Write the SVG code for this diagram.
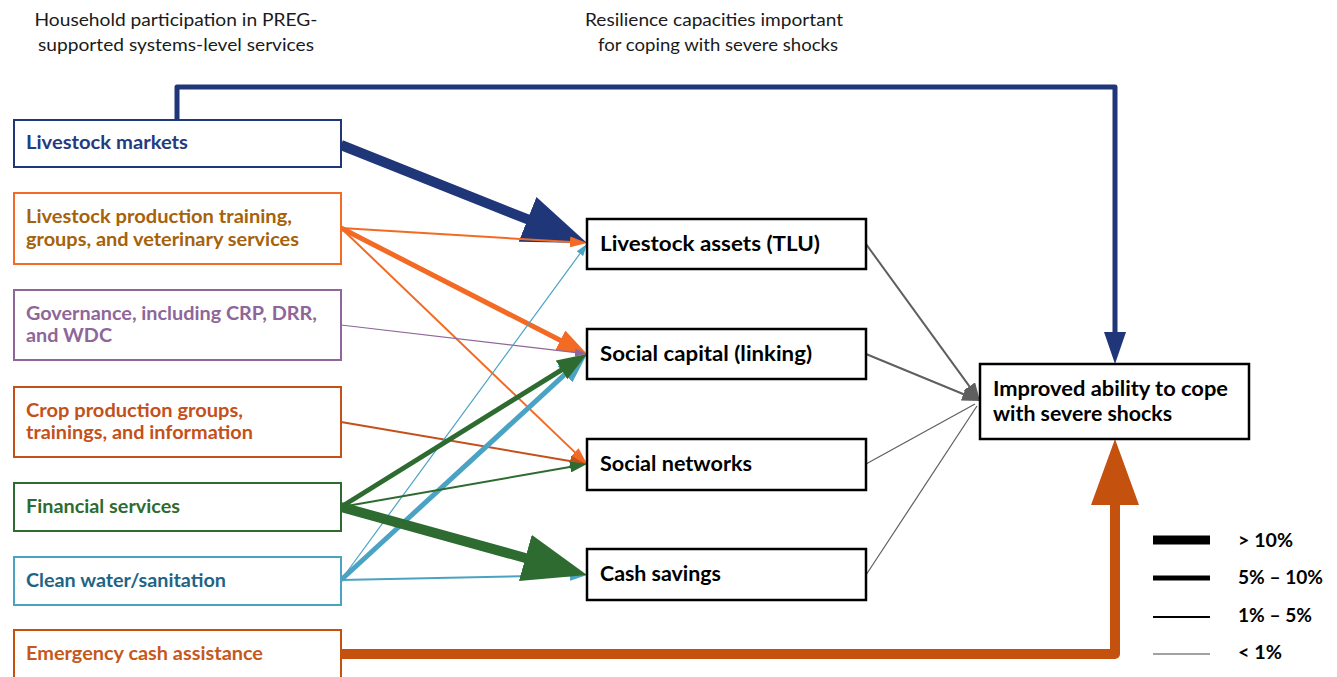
<svg xmlns="http://www.w3.org/2000/svg" width="1337" height="677" viewBox="0 0 1337 677">
<style>
.hd{font-family:Lato,"Liberation Sans",sans-serif;font-size:18px;fill:#1a1a1a;text-anchor:middle}
.lb{font-family:Lato,"Liberation Sans",sans-serif;font-weight:bold;font-size:18.5px}
.mb{font-family:Lato,"Liberation Sans",sans-serif;font-weight:bold;font-size:20px;fill:#000}
.lg{font-family:Lato,"Liberation Sans",sans-serif;font-weight:bold;font-size:18px;fill:#000}
.box{fill:#fff;stroke-width:2}
.mbox{fill:#fff;stroke:#000;stroke-width:2.5}
.c{fill:none;stroke-linecap:butt}
</style>
<defs>
<marker id="hNavyBig" markerUnits="userSpaceOnUse" markerWidth="64" markerHeight="48" refX="1" refY="24" orient="auto"><path d="M0,0 L64,24 L0,48 Z" fill="#1F3778"/></marker>
<marker id="hNavyMed" markerUnits="userSpaceOnUse" markerWidth="32" markerHeight="22" refX="1" refY="11" orient="auto"><path d="M0,0 L32,11 L0,22 Z" fill="#1F3778"/></marker>
<marker id="hOrMed" markerUnits="userSpaceOnUse" markerWidth="30" markerHeight="22" refX="1" refY="11" orient="auto"><path d="M0,0 L30,11 L0,22 Z" fill="#F26A24"/></marker>
<marker id="hOrSm" markerUnits="userSpaceOnUse" markerWidth="17" markerHeight="11" refX="1" refY="5.5" orient="auto"><path d="M0,0 L17,5.5 L0,11 Z" fill="#F26A24"/></marker>
<marker id="hPuTi" markerUnits="userSpaceOnUse" markerWidth="12" markerHeight="8" refX="1" refY="4" orient="auto"><path d="M0,0 L12,4 L0,8 Z" fill="#8E6699"/></marker>
<marker id="hCrSm" markerUnits="userSpaceOnUse" markerWidth="17" markerHeight="11" refX="1" refY="5.5" orient="auto"><path d="M0,0 L17,5.5 L0,11 Z" fill="#C4501A"/></marker>
<marker id="hGrBig" markerUnits="userSpaceOnUse" markerWidth="64" markerHeight="48" refX="1" refY="24" orient="auto"><path d="M0,0 L64,24 L0,48 Z" fill="#2E6B30"/></marker>
<marker id="hGrMed" markerUnits="userSpaceOnUse" markerWidth="30" markerHeight="22" refX="1" refY="11" orient="auto"><path d="M0,0 L30,11 L0,22 Z" fill="#2E6B30"/></marker>
<marker id="hGrSm" markerUnits="userSpaceOnUse" markerWidth="17" markerHeight="11" refX="1" refY="5.5" orient="auto"><path d="M0,0 L17,5.5 L0,11 Z" fill="#2E6B30"/></marker>
<marker id="hBlMed" markerUnits="userSpaceOnUse" markerWidth="30" markerHeight="22" refX="1" refY="11" orient="auto"><path d="M0,0 L30,11 L0,22 Z" fill="#4BA3C3"/></marker>
<marker id="hBlSm" markerUnits="userSpaceOnUse" markerWidth="17" markerHeight="11" refX="1" refY="5.5" orient="auto"><path d="M0,0 L17,5.5 L0,11 Z" fill="#4BA3C3"/></marker>
<marker id="hBlTi" markerUnits="userSpaceOnUse" markerWidth="12" markerHeight="8" refX="1" refY="4" orient="auto"><path d="M0,0 L12,4 L0,8 Z" fill="#4BA3C3"/></marker>
<marker id="hGray" markerUnits="userSpaceOnUse" markerWidth="18" markerHeight="14" refX="1" refY="7" orient="auto"><path d="M0,0 L18,7 L0,14 Z" fill="#5F5F5F"/></marker>
<marker id="hEmBig" markerUnits="userSpaceOnUse" markerWidth="66" markerHeight="48" refX="1" refY="24" orient="auto"><path d="M0,0 L66,24 L0,48 Z" fill="#C5510F"/></marker>
</defs>
<rect width="1337" height="677" fill="#fff"/>

<g id="headers">
<text class="hd" x="176" y="26" textLength="283" lengthAdjust="spacingAndGlyphs">Household participation in PREG-</text>
<text class="hd" x="176" y="51" textLength="276" lengthAdjust="spacingAndGlyphs">supported systems-level services</text>
<text class="hd" x="714" y="26" textLength="258" lengthAdjust="spacingAndGlyphs">Resilience capacities important</text>
<text class="hd" x="718" y="51" textLength="240" lengthAdjust="spacingAndGlyphs">for coping with severe shocks</text>
</g>

<g id="connectors">
<path class="c" d="M177,120 V87 H1115 V333" stroke="#1F3778" stroke-width="5" stroke-linejoin="round" marker-end="url(#hNavyMed)"/>
<line class="c" x1="341" y1="145" x2="528.5" y2="219.7" stroke="#1F3778" stroke-width="10" marker-end="url(#hNavyBig)"/>
<line class="c" x1="341" y1="228" x2="571" y2="242" stroke="#F26A24" stroke-width="2" marker-end="url(#hOrSm)"/>
<line class="c" x1="341" y1="228" x2="561.2" y2="340.8" stroke="#F26A24" stroke-width="5" marker-end="url(#hOrMed)"/>
<line class="c" x1="341" y1="228" x2="575.5" y2="452.9" stroke="#F26A24" stroke-width="2" marker-end="url(#hOrSm)"/>
<line class="c" x1="341" y1="325" x2="576.1" y2="352.7" stroke="#8E6699" stroke-width="1.2" marker-end="url(#hPuTi)"/>
<line class="c" x1="341" y1="422" x2="571.2" y2="461.3" stroke="#C4501A" stroke-width="2" marker-end="url(#hCrSm)"/>
<line class="c" x1="341" y1="580" x2="580.5" y2="252.9" stroke="#4BA3C3" stroke-width="1.2" marker-end="url(#hBlTi)"/>
<line class="c" x1="341" y1="580" x2="565.7" y2="373.6" stroke="#4BA3C3" stroke-width="5" marker-end="url(#hBlMed)"/>
<line class="c" x1="341" y1="580" x2="571" y2="575.3" stroke="#4BA3C3" stroke-width="2" marker-end="url(#hBlSm)"/>
<line class="c" x1="341" y1="507" x2="562.4" y2="369.3" stroke="#2E6B30" stroke-width="5" marker-end="url(#hGrMed)"/>
<line class="c" x1="341" y1="507" x2="571.2" y2="466.8" stroke="#2E6B30" stroke-width="2" marker-end="url(#hGrSm)"/>
<line class="c" x1="341" y1="507" x2="526.3" y2="558.2" stroke="#2E6B30" stroke-width="10" marker-end="url(#hGrBig)"/>
<line class="c" x1="866" y1="464" x2="975" y2="404" stroke="#5F5F5F" stroke-width="1.2"/>
<line class="c" x1="866" y1="575" x2="977" y2="406" stroke="#5F5F5F" stroke-width="1.2"/>
<line class="c" x1="866" y1="244" x2="970" y2="387.2" stroke="#5F5F5F" stroke-width="2" marker-end="url(#hGray)"/>
<line class="c" x1="866" y1="354" x2="964.3" y2="394.5" stroke="#5F5F5F" stroke-width="2" marker-end="url(#hGray)"/>
<path class="c" d="M341,654 H1115 V504" stroke="#C5510F" stroke-width="10" stroke-linejoin="round" marker-end="url(#hEmBig)"/>
</g>

<g id="n-livestock-markets">
<rect class="box" x="14" y="120" width="327" height="47" stroke="#1F3778"/>
<text class="lb" x="26" y="149" fill="#233C80" textLength="162" lengthAdjust="spacingAndGlyphs">Livestock markets</text>
</g>
<g id="n-livestock-production">
<rect class="box" x="14" y="193" width="327" height="71" stroke="#F26A24"/>
<text class="lb" x="26" y="223" fill="#A6620A" textLength="266" lengthAdjust="spacingAndGlyphs">Livestock production training,</text>
<text class="lb" x="26" y="246" fill="#A6620A" textLength="273" lengthAdjust="spacingAndGlyphs">groups, and veterinary services</text>
</g>
<g id="n-governance">
<rect class="box" x="14" y="290" width="327" height="70" stroke="#8E6699"/>
<text class="lb" x="26" y="320" fill="#8E6699" textLength="291" lengthAdjust="spacingAndGlyphs">Governance, including CRP, DRR,</text>
<text class="lb" x="26" y="342" fill="#8E6699" textLength="86" lengthAdjust="spacingAndGlyphs">and WDC</text>
</g>
<g id="n-crop">
<rect class="box" x="14" y="387" width="327" height="70" stroke="#C4501A"/>
<text class="lb" x="26" y="417" fill="#C4501A" textLength="217" lengthAdjust="spacingAndGlyphs">Crop production groups,</text>
<text class="lb" x="26" y="439" fill="#C4501A" textLength="227" lengthAdjust="spacingAndGlyphs">trainings, and information</text>
</g>
<g id="n-financial">
<rect class="box" x="14" y="483" width="327" height="48" stroke="#2E6B30"/>
<text class="lb" x="26" y="513" fill="#2E6B30" textLength="154" lengthAdjust="spacingAndGlyphs">Financial services</text>
</g>
<g id="n-water">
<rect class="box" x="14" y="557" width="327" height="48" stroke="#4BA3C3"/>
<text class="lb" x="26" y="587" fill="#1F6485" textLength="200" lengthAdjust="spacingAndGlyphs">Clean water/sanitation</text>
</g>
<g id="n-emergency">
<rect class="box" x="14" y="630" width="327" height="60" stroke="#C5510F"/>
<text class="lb" x="26" y="660" fill="#C5581A" textLength="237" lengthAdjust="spacingAndGlyphs">Emergency cash assistance</text>
</g>

<g id="n-livestock-assets">
<rect class="mbox" x="587" y="219" width="279" height="50"/>
<text class="mb" x="600" y="251" textLength="220" lengthAdjust="spacingAndGlyphs">Livestock assets (TLU)</text>
</g>
<g id="n-social-capital">
<rect class="mbox" x="587" y="329" width="279" height="50"/>
<text class="mb" x="600" y="361" textLength="212" lengthAdjust="spacingAndGlyphs">Social capital (linking)</text>
</g>
<g id="n-social-networks">
<rect class="mbox" x="587" y="439" width="279" height="51"/>
<text class="mb" x="600" y="471" textLength="152" lengthAdjust="spacingAndGlyphs">Social networks</text>
</g>
<g id="n-cash-savings">
<rect class="mbox" x="587" y="549" width="279" height="51"/>
<text class="mb" x="600" y="581" textLength="121" lengthAdjust="spacingAndGlyphs">Cash savings</text>
</g>

<g id="n-improved">
<rect class="mbox" x="980" y="364" width="269" height="75"/>
<text class="mb" x="993" y="396" textLength="235" lengthAdjust="spacingAndGlyphs">Improved ability to cope</text>
<text class="mb" x="993" y="421" textLength="179" lengthAdjust="spacingAndGlyphs">with severe shocks</text>
</g>

<g id="legend">
<line x1="1153" y1="540" x2="1210" y2="540" stroke="#000" stroke-width="9"/>
<line x1="1153" y1="578" x2="1210" y2="578" stroke="#000" stroke-width="5"/>
<line x1="1153" y1="617" x2="1210" y2="617" stroke="#000" stroke-width="2"/>
<line x1="1153" y1="654" x2="1210" y2="654" stroke="#444" stroke-width="1.2"/>
<text class="lg" x="1238" y="547" textLength="55" lengthAdjust="spacingAndGlyphs">&gt; 10%</text>
<text class="lg" x="1238" y="584" textLength="85" lengthAdjust="spacingAndGlyphs">5% – 10%</text>
<text class="lg" x="1238" y="622" textLength="74" lengthAdjust="spacingAndGlyphs">1% – 5%</text>
<text class="lg" x="1238" y="659" textLength="44" lengthAdjust="spacingAndGlyphs">&lt; 1%</text>
</g>
</svg>
